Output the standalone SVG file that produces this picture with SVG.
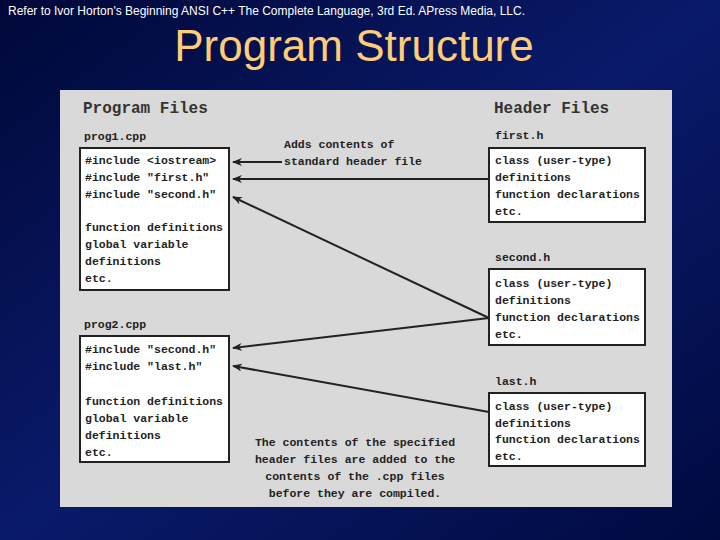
<svg xmlns="http://www.w3.org/2000/svg" width="720" height="540" viewBox="0 0 720 540">
<defs>
<linearGradient id="bg" x1="0" y1="0" x2="1" y2="1"><stop offset="0" stop-color="#000838"/><stop offset="0.5" stop-color="#0a1a6a"/><stop offset="1" stop-color="#000a40"/></linearGradient>
<marker id="ah" markerWidth="10" markerHeight="8" refX="9" refY="4" orient="auto" markerUnits="userSpaceOnUse"><path d="M0,0 L10,4 L0,8 L3,4 Z" fill="#222"/></marker>
</defs>
<style>
.m{font-family:"Liberation Mono",monospace;font-weight:bold;font-size:11.5px;fill:#222}
.h{font-family:"Liberation Mono",monospace;font-weight:bold;font-size:16px;fill:#333}
.b{fill:#fff;stroke:#222;stroke-width:2}
.c{stroke:#222;stroke-width:2;fill:none;marker-end:url(#ah)}
</style>
<rect width="720" height="540" fill="url(#bg)"/>
<text x="8" y="15" font-family="Liberation Sans,sans-serif" font-size="12" fill="#fff">Refer to Ivor Horton's Beginning ANSI C++ The Complete Language, 3rd Ed. APress Media, LLC.</text>
<text x="354" y="61" text-anchor="middle" font-family="Liberation Sans,sans-serif" font-size="44" fill="#ffcc77">Program Structure</text>
<rect x="60" y="90" width="612" height="417" fill="#d9d9d9"/>
<text class="h" x="83" y="113">Program Files</text>
<text class="h" x="494" y="113">Header Files</text>
<g id="prog1"><text class="m" x="84" y="140">prog1.cpp</text><rect class="b" x="80" y="148" width="149" height="142"/>
<text class="m"><tspan x="85" y="164">#include &lt;iostream&gt;</tspan><tspan x="85" y="181">#include "first.h"</tspan><tspan x="85" y="198">#include "second.h"</tspan><tspan x="85" y="231">function definitions</tspan><tspan x="85" y="248">global variable</tspan><tspan x="85" y="265">definitions</tspan><tspan x="85" y="282">etc.</tspan></text></g>
<g id="prog2"><text class="m" x="84" y="328">prog2.cpp</text><rect class="b" x="80" y="336" width="149" height="126"/>
<text class="m"><tspan x="85" y="353">#include "second.h"</tspan><tspan x="85" y="370">#include "last.h"</tspan><tspan x="85" y="405">function definitions</tspan><tspan x="85" y="422">global variable</tspan><tspan x="85" y="439">definitions</tspan><tspan x="85" y="456">etc.</tspan></text></g>
<g id="first"><text class="m" x="495" y="139">first.h</text><rect class="b" x="489" y="148" width="156" height="74"/>
<text class="m"><tspan x="495" y="164">class (user-type)</tspan><tspan x="495" y="181">definitions</tspan><tspan x="495" y="198">function declarations</tspan><tspan x="495" y="215">etc.</tspan></text></g>
<g id="second"><text class="m" x="495" y="261">second.h</text><rect class="b" x="489" y="269" width="156" height="76"/>
<text class="m"><tspan x="495" y="287">class (user-type)</tspan><tspan x="495" y="304">definitions</tspan><tspan x="495" y="321">function declarations</tspan><tspan x="495" y="338">etc.</tspan></text></g>
<g id="last"><text class="m" x="495" y="385">last.h</text><rect class="b" x="489" y="393" width="156" height="73"/>
<text class="m"><tspan x="495" y="410">class (user-type)</tspan><tspan x="495" y="427">definitions</tspan><tspan x="495" y="443">function declarations</tspan><tspan x="495" y="460">etc.</tspan></text></g>
<g id="labels">
<text class="m"><tspan x="284" y="148">Adds contents of</tspan><tspan x="284" y="165">standard header file</tspan></text>
<text class="m" text-anchor="middle"><tspan x="355" y="446">The contents of the specified</tspan><tspan x="355" y="463">header files are added to the</tspan><tspan x="355" y="480">contents of the .cpp files</tspan><tspan x="355" y="497">before they are compiled.</tspan></text>
</g>
<g id="connectors">
<line class="c" x1="282" y1="162" x2="233" y2="162"/>
<line class="c" x1="489" y1="179" x2="233" y2="179"/>
<line class="c" x1="489" y1="318" x2="233" y2="197"/>
<line class="c" x1="489" y1="318" x2="233" y2="348"/>
<line class="c" x1="489" y1="412" x2="233" y2="366"/>
</g>
</svg>
